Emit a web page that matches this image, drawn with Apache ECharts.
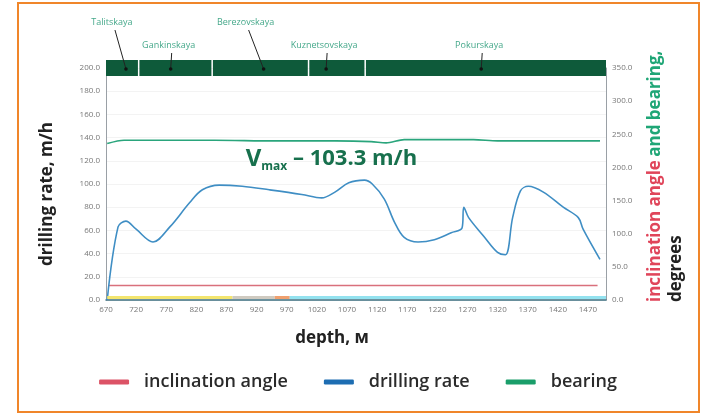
<!DOCTYPE html>
<html>
<head>
<meta charset="utf-8">
<script src="https://cdn.jsdelivr.net/npm/echarts@6/dist/echarts.min.js"></script>
<style>
  html, body { margin: 0; padding: 0; background: #fff; }
  #chart { width: 716px; height: 416px; }
  #frame { position: absolute; left: 17px; top: 2px; width: 679px; height: 407px; border: 2px solid #f0862a; pointer-events: none; }
</style>
</head>
<body>
<div id="chart"></div>
<div id="frame"></div>
<script>
  // depth, m -> drilling rate, m/h
  var rateDepth = [672, 690, 703, 720, 748, 776, 809, 830, 858, 896, 941, 995, 1028, 1050, 1073, 1099, 1112, 1132, 1149, 1165, 1188, 1215, 1243, 1261, 1264, 1272, 1297, 1320, 1333, 1345, 1358, 1371, 1396, 1429, 1454, 1462, 1490]
  var drillingRate = [0, 63, 68, 61, 50, 63, 84, 95, 99, 98, 95, 91, 88, 93, 101, 103.3, 100, 87, 67, 54, 50, 52, 58, 62, 80, 71, 55, 41, 39, 71, 94, 98, 93, 80, 71, 61, 35]

  // bearing, degrees
  var bearingDepth = [672, 700, 760, 850, 950, 1050, 1110, 1135, 1165, 1220, 1280, 1320, 1400, 1490]
  var bearing = [236, 241, 241, 241, 240, 240, 239, 237, 242, 242, 242, 240, 240, 240]

  // inclination angle, degrees
  var inclDepth = [675, 1486]
  var inclination = [22, 22]

  // formations (tops, m)
  var formations = ['Talitskaya', 'Gankinskaya', 'Berezovskaya', 'Kuznetsovskaya', 'Pokurskaya']
  var formationTops = [670, 723, 845, 1005, 1099]
  var formationBase = 1500

  // bit runs along the bottom (from, to)
  var runFrom = [672, 880, 950, 975]
  var runTo = [880, 950, 975, 1500]

  var depthMin = 670
  var depthMax = 1500

  var FONT = 'Open Sans'
  var runColors = ['#f3e56e', '#cfcac0', '#f0a06e', '#93e2ef']
  var labelRow = [0, 1, 0, 1, 1]
  var labelShift = [-10, -6, -14, -12, -6]

  function pairs(xs, ys) {
    return xs.map(function (x, i) { return [x, ys[i]] })
  }

  var formationData = formations.map(function (n, i) {
    return [formationTops[i], i < formations.length - 1 ? formationTops[i + 1] : formationBase, i]
  })
  var runData = runFrom.map(function (f, i) { return [f, runTo[i], i] })

  var chart = echarts.init(document.getElementById('chart'), null, { renderer: 'canvas' })

  chart.setOption({
    animation: false,
    textStyle: { fontFamily: FONT },
    grid: { left: 106, right: 110, top: 68, bottom: 116 },
    legend: {
      bottom: 20,
      left: 'center',
      itemWidth: 30,
      itemHeight: 5,
      itemGap: 36,
      icon: 'roundRect',
      data: ['inclination angle', 'drilling rate', 'bearing'],
      textStyle: { fontSize: 18, fontWeight: 600, color: '#2b2b2b', fontFamily: FONT, padding: [0, 0, 0, 10] }
    },
    xAxis: {
      type: 'value',
      min: depthMin,
      max: depthMax,
      interval: 10,
      name: 'depth, м',
      nameLocation: 'middle',
      nameGap: 30,
      nameTextStyle: { fontSize: 17, fontWeight: 'bold', color: '#222', fontFamily: FONT, padding: [0, 48, 0, 0] },
      axisLine: { lineStyle: { color: '#3c6f80', width: 1.5 } },
      axisTick: { show: false },
      splitLine: { show: false },
      axisLabel: {
        fontSize: 8,
        color: '#777',
        margin: 6,
        formatter: function (v) { return (v - depthMin) % 50 === 0 ? String(v) : '' }
      }
    },
    yAxis: [{
      type: 'value',
      min: 0,
      max: 200,
      interval: 20,
      name: 'drilling rate, m/h',
      nameLocation: 'middle',
      nameGap: 50,
      nameTextStyle: { fontSize: 17, fontWeight: 'bold', color: '#222', fontFamily: FONT, padding: [0, 20, 0, 0] },
      axisLine: { show: true, lineStyle: { color: '#9aa0a6' } },
      axisTick: { show: false },
      splitLine: { show: true, lineStyle: { color: '#f3f3f3' } },
      axisLabel: { fontSize: 8, color: '#777', margin: 6, formatter: function (v) { return v.toFixed(1) } }
    }, {
      type: 'value',
      min: 0,
      max: 350,
      interval: 50,
      position: 'right',
      axisLine: { show: true, lineStyle: { color: '#9aa0a6' } },
      axisTick: { show: false },
      splitLine: { show: false },
      axisLabel: { fontSize: 8, color: '#777', margin: 6, formatter: function (v) { return v.toFixed(1) } }
    }],
    graphic: [{
      type: 'text',
      x: 645,
      y: 302,
      rotation: Math.PI / 2,
      style: {
        text: '{r|inclination angle} {g|and bearing,}\n{k|degrees}',
        align: 'left',
        verticalAlign: 'top',
        rich: {
          r: { fontSize: 17, fontWeight: 'bold', fill: '#e0455a', fontFamily: FONT, lineHeight: 21 },
          g: { fontSize: 17, fontWeight: 'bold', fill: '#1fa676', fontFamily: FONT, lineHeight: 21 },
          k: { fontSize: 17, fontWeight: 'bold', fill: '#222', fontFamily: FONT, lineHeight: 21 }
        }
      }
    }],
    series: [{
      name: 'inclination angle',
      type: 'line',
      yAxisIndex: 1,
      data: pairs(inclDepth, inclination),
      showSymbol: false,
      color: '#dc5366',
      lineStyle: { width: 1.5, color: '#d9707c' }
    }, {
      name: 'drilling rate',
      type: 'line',
      data: pairs(rateDepth, drillingRate),
      smooth: 0.35,
      showSymbol: false,
      color: '#1d6db2',
      lineStyle: { width: 1.6, color: '#3f8ec4' },
      markPoint: {
        symbol: 'circle',
        symbolSize: 0,
        data: [{ type: 'max' }],
        label: {
          show: true,
          position: 'inside',
          offset: [-33, -21],
          formatter: function (p) { return '{v|V}{s|max}{t| – ' + p.value + ' m/h}' },
          rich: {
            v: { fontSize: 24, fontWeight: 'bold', color: '#17704d', fontFamily: FONT },
            s: { fontSize: 12, fontWeight: 'bold', color: '#17704d', fontFamily: FONT, padding: [14, 0, 0, 0] },
            t: { fontSize: 22, fontWeight: 'bold', color: '#17704d', fontFamily: FONT }
          }
        }
      }
    }, {
      name: 'bearing',
      type: 'line',
      yAxisIndex: 1,
      data: pairs(bearingDepth, bearing),
      smooth: 0.3,
      showSymbol: false,
      color: '#1a9e6a',
      lineStyle: { width: 1.6, color: '#2aa57c' }
    }, {
      type: 'custom',
      name: 'formations',
      clip: false,
      z: 5,
      data: formationData,
      encode: { x: [0, 1] },
      renderItem: function (params, api) {
        var i = api.value(2)
        var a = api.coord([api.value(0), 200])
        var b = api.coord([api.value(1), 200])
        var gap = i > 0 ? 1.5 : 0
        var mid = (a[0] + b[0]) / 2
        var lx = mid + labelShift[i]
        var row = labelRow[i]
        var ly = row === 0 ? a[1] - 46 : a[1] - 23
        var tipX = row === 0 ? mid + 4 : lx + 2
        var tipY = a[1] + 1
        return {
          type: 'group',
          children: [{
            type: 'rect',
            shape: { x: a[0] + gap, y: a[1] - 8, width: b[0] - a[0] - gap, height: 16 },
            style: { fill: '#0e5a3a' }
          }, {
            type: 'line',
            shape: { x1: lx + 3, y1: ly + 8, x2: tipX, y2: tipY },
            style: { stroke: '#222', lineWidth: 1 }
          }, {
            type: 'circle',
            shape: { cx: tipX, cy: tipY, r: 1.8 },
            style: { fill: '#111' }
          }, {
            type: 'text',
            x: lx,
            y: ly,
            style: { text: formations[i], fill: '#45a88a', fontSize: 9, fontFamily: FONT, align: 'center', verticalAlign: 'middle' }
          }]
        }
      }
    }, {
      type: 'custom',
      name: 'runs',
      clip: false,
      z: 4,
      data: runData,
      encode: { x: [0, 1] },
      renderItem: function (params, api) {
        var a = api.coord([api.value(0), 0])
        var b = api.coord([api.value(1), 0])
        return {
          type: 'rect',
          shape: { x: a[0], y: a[1] - 4, width: b[0] - a[0], height: 3 },
          style: { fill: runColors[api.value(2)] }
        }
      }
    }]
  })
</script>
</body>
</html>
